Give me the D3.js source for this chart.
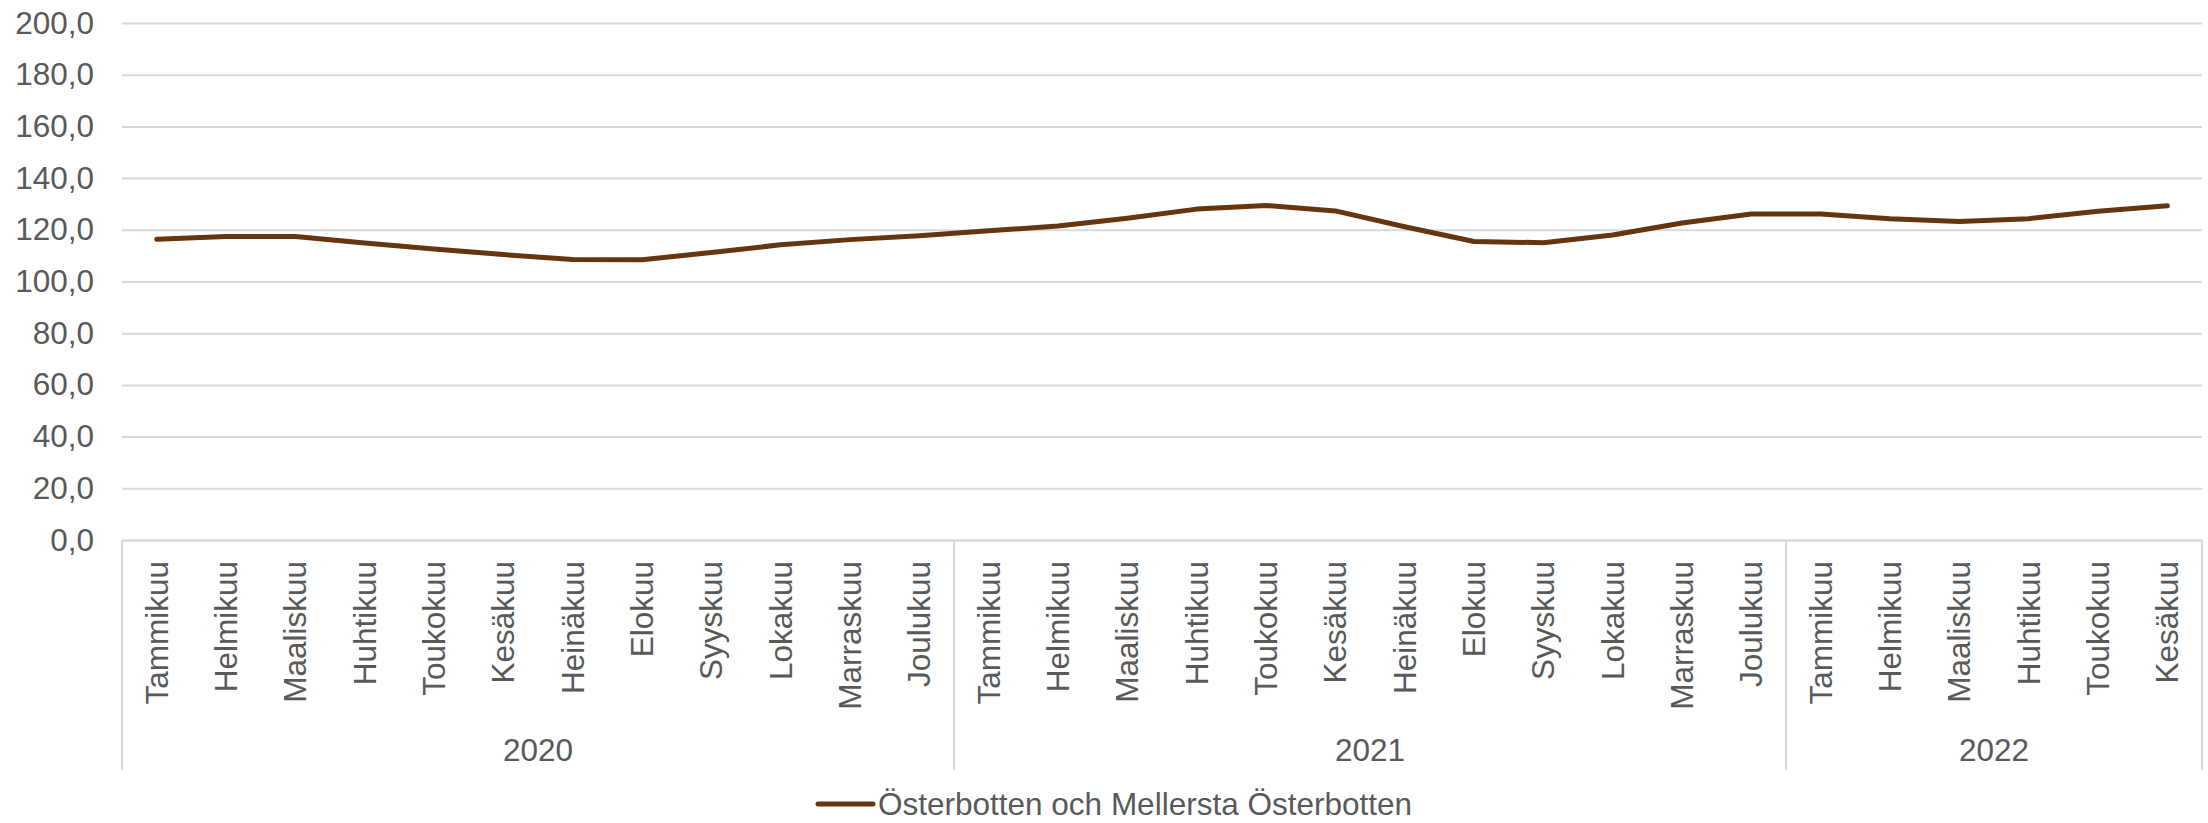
<!DOCTYPE html>
<html>
<head>
<meta charset="utf-8">
<script src="https://cdn.jsdelivr.net/npm/d3@7"></script>
<style>
  html, body { margin: 0; padding: 0; background: #fff; }
  text { font-family: "Liberation Sans", Arial, sans-serif; fill: #595959; }
</style>
</head>
<body>
<div id="chart"></div>
<script>
// Index series, monthly, Jan 2020 - Jun 2022
var monthNames = ['Tammikuu', 'Helmikuu', 'Maaliskuu', 'Huhtikuu', 'Toukokuu', 'Kesäkuu',
  'Heinäkuu', 'Elokuu', 'Syyskuu', 'Lokakuu', 'Marraskuu', 'Joulukuu'];
var years = ['2020', '2021', '2022'];
var monthsPerYear = [12, 12, 6];
var values = [
  116.3, 117.4, 117.4, 114.9, 112.6, 110.4, 108.5, 108.4, 111.2, 114.2, 116.2, 117.7,
  119.6, 121.5, 124.5, 128.0, 129.4, 127.3, 121.2, 115.5, 115.0, 118.0, 122.6, 126.1,
  126.1, 124.3, 123.2, 124.3, 127.2, 129.3
];
var yTicks = [0, 20, 40, 60, 80, 100, 120, 140, 160, 180, 200];
var seriesName = 'Österbotten och Mellersta Österbotten';

(function () {
  'use strict';

  var width = 2208, height = 823;
  var margin = { top: 23, right: 6, bottom: 283, left: 122 };
  var w = width - margin.left - margin.right;
  var h = height - margin.top - margin.bottom;
  var lineColor = '#653510';
  var gridColor = '#d9d9d9';
  var fontSize = '31.5px';

  // Flatten month categories with their year group
  var cats = [];
  years.forEach(function (yr, yi) {
    for (var m = 0; m < monthsPerYear[yi]; m++) {
      cats.push({ idx: cats.length, month: monthNames[m], year: yr, value: values[cats.length] });
    }
  });

  var svg = d3.select('#chart').append('svg')
    .attr('width', width).attr('height', height);

  var g = svg.append('g').attr('transform', 'translate(' + margin.left + ',' + margin.top + ')');

  var x = d3.scaleBand().domain(cats.map(function (d) { return d.idx; })).range([0, w]);
  var y = d3.scaleLinear().domain([0, 200]).range([h, 0]);

  var fi = d3.formatLocale({ decimal: ',', thousands: ' ', grouping: [3], currency: ['', ''] });
  var fmt = fi.format('.1f');

  // Gridlines + y labels
  var yAxis = g.append('g')
    .call(d3.axisLeft(y).tickValues(yTicks).tickSize(-w).tickPadding(28).tickFormat(fmt));
  yAxis.select('.domain').remove();
  yAxis.selectAll('.tick line').attr('stroke', gridColor).attr('stroke-width', 2);
  yAxis.selectAll('.tick text').style('font-size', fontSize).attr('fill', '#595959');

  // Month labels (rotated)
  var xAxis = g.append('g').attr('transform', 'translate(0,' + h + ')')
    .call(d3.axisBottom(x).tickSize(0).tickFormat(function (i) { return cats[i].month; }));
  xAxis.select('.domain').attr('stroke', gridColor).attr('stroke-width', 2);
  xAxis.selectAll('.tick text')
    .style('font-size', fontSize).attr('fill', '#595959')
    .attr('transform', 'rotate(-90)')
    .attr('text-anchor', 'end')
    .attr('x', -21).attr('y', 0).attr('dy', '0.35em');

  // Year group separators and labels
  var groupBottom = 230;
  var start = 0;
  var bounds = [0];
  years.forEach(function (yr, yi) {
    var end = start + monthsPerYear[yi];
    var x0 = x(start), x1 = end < cats.length ? x(end) : w;
    bounds.push(x1);
    g.append('text')
      .attr('x', (x0 + x1) / 2).attr('y', h + 210)
      .attr('text-anchor', 'middle').attr('dy', '0.35em')
      .style('font-size', fontSize)
      .text(yr);
    start = end;
  });
  g.selectAll('.sep').data(bounds).enter().append('line')
    .attr('class', 'sep')
    .attr('x1', function (d) { return d; }).attr('x2', function (d) { return d; })
    .attr('y1', h).attr('y2', h + groupBottom)
    .attr('stroke', gridColor).attr('stroke-width', 2);

  // Series line
  var line = d3.line()
    .x(function (d) { return x(d.idx) + x.bandwidth() / 2; })
    .y(function (d) { return y(d.value); });

  g.append('path').datum(cats)
    .attr('d', line)
    .attr('fill', 'none')
    .attr('stroke', lineColor)
    .attr('stroke-width', 5)
    .attr('stroke-linejoin', 'round')
    .attr('stroke-linecap', 'round');

  // Legend
  var legend = svg.append('g').attr('transform', 'translate(818, 804)');
  legend.append('line').attr('x1', 0).attr('x2', 55).attr('y1', 0).attr('y2', 0)
    .attr('stroke', lineColor).attr('stroke-width', 5).attr('stroke-linecap', 'round');
  legend.append('text').attr('x', 60).attr('y', 0).attr('dy', '0.35em')
    .style('font-size', fontSize).text(seriesName);
})();
</script>
</body>
</html>
